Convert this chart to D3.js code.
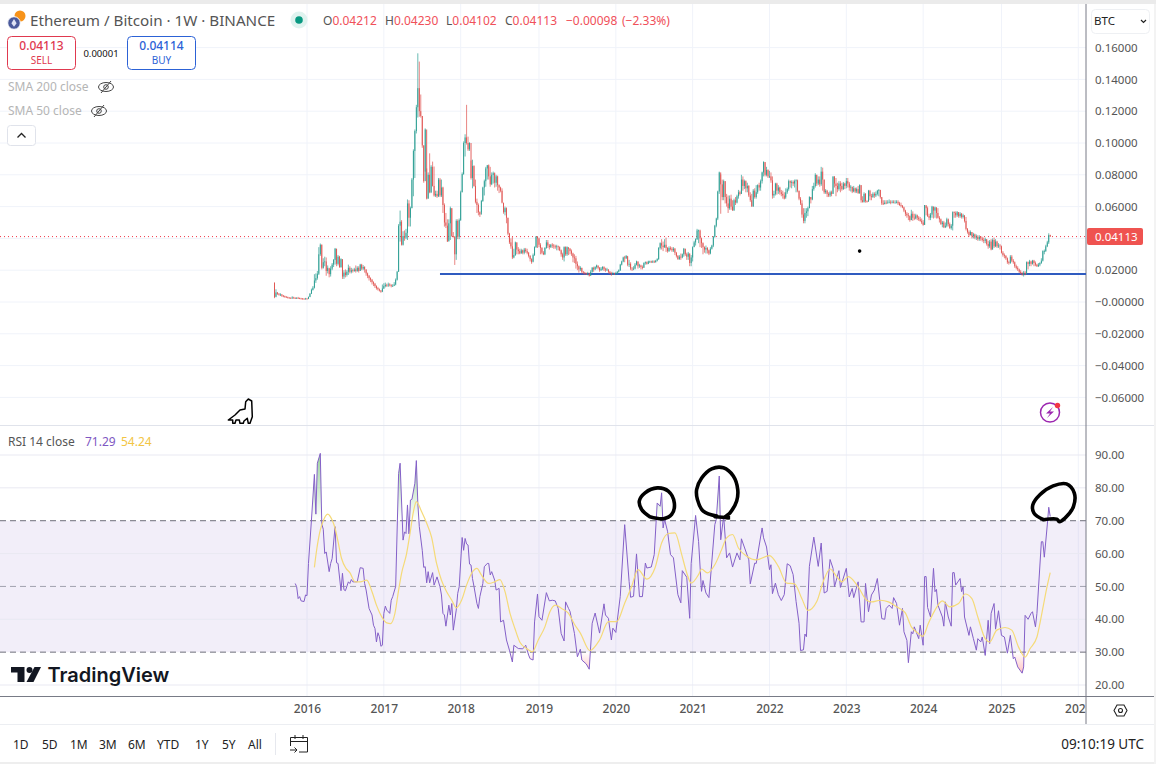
<!DOCTYPE html>
<html>
<head>
<meta charset="utf-8">
<script src="https://cdn.jsdelivr.net/npm/d3@7/dist/d3.min.js"></script>
<style>
  html, body { margin: 0; padding: 0; background: #fff; overflow: hidden; }
  svg { display: block; }
  text { font-family: "Noto Sans", sans-serif; }
</style>
</head>
<body>
<svg id="chart" width="1156" height="764"></svg>
<script>
// Weekly candles, one value per week, in units of 0.0001 BTC. Ten values per row.
const closes = [
  30,60,52,46,47,40,36,34,30,28,
  26,24,28,26,24,26,25,22,21,20,
  19,21,20,32,52,76,90,135,150,178,
  300,360,215,250,255,195,215,175,210,235,
  265,335,240,285,220,270,160,185,170,190,
  215,190,200,195,205,195,215,195,235,210,
  220,205,180,165,150,140,125,115,100,88,
  80,72,65,85,100,108,104,110,105,100,
  102,110,140,190,480,505,360,415,405,435,
  620,530,590,770,950,1075,1225,1345,1200,1170,
  985,760,1085,650,800,690,850,730,670,680,
  665,770,670,720,610,500,480,380,495,590,
  415,410,300,510,410,515,690,805,1000,1035,
  1000,960,1000,780,855,730,630,610,565,550,
  635,720,760,840,860,790,740,800,810,750,
  790,735,720,700,625,565,590,530,430,375,
  350,280,295,375,330,320,305,325,310,330,
  320,310,290,270,250,295,345,410,400,360,
  340,310,300,340,375,355,345,360,355,350,
  345,350,345,325,300,280,345,300,345,335,
  320,305,280,275,240,225,205,215,190,185,
  180,175,178,165,190,215,205,220,230,215,
  200,210,220,205,200,205,190,180,175,180,
  175,180,190,200,235,255,280,275,290,235,
  240,210,205,210,235,255,225,230,220,215,
  245,250,240,255,255,250,255,250,260,270,
  340,370,355,345,360,340,320,340,335,325,
  335,310,290,270,285,280,300,335,300,285,
  305,245,280,345,375,395,450,450,400,370,
  345,330,340,325,305,335,355,410,480,525,
  695,815,740,660,760,660,620,590,650,600,
  575,640,625,665,690,680,770,730,760,715,
  730,670,640,600,700,660,690,735,720,760,
  815,880,800,830,790,790,765,670,680,745,
  700,720,690,680,670,650,690,710,760,750,
  755,745,760,765,700,650,620,550,510,560,
  570,590,660,645,710,730,800,745,770,740,
  820,770,690,700,680,670,690,680,790,745,
  730,710,745,730,710,745,730,760,745,720,
  725,695,715,695,710,685,735,640,630,680,
  635,630,700,665,660,680,670,680,700,705,
  660,620,615,625,620,625,630,625,630,625,
  625,630,620,610,605,595,575,555,545,540,
  515,555,530,525,545,530,520,510,500,485,
  610,590,540,530,550,600,575,595,560,530,
  520,490,500,470,480,520,490,465,480,565,
  560,545,565,540,555,535,545,510,460,440,
  420,440,415,425,405,410,395,410,400,390,
  385,395,365,350,380,330,390,350,380,350,
  355,350,310,295,290,275,250,245,285,260,
  250,225,215,205,190,180,172,185,175,250,
  240,255,240,260,245,235,225,235,245,260,
  320,320,350,375,421,411
];
const highs = [
  122,80,62,56,55,50,44,40,36,34,
  30,30,36,33,30,30,32,28,26,25,
  24,26,25,34,56,84,100,175,180,195,
  345,368,362,275,285,280,230,210,225,245,
  270,340,335,295,290,275,265,200,205,200,
  235,225,215,210,215,230,225,225,240,240,
  232,225,205,185,170,155,145,130,120,105,
  95,85,75,110,118,122,115,122,118,112,
  112,125,148,195,490,575,515,445,450,460,
  645,640,600,780,960,1085,1240,1564,1512,1305,
  1170,985,1092,840,815,935,860,883,852,700,
  700,780,780,770,725,620,560,520,520,600,
  590,440,415,520,520,525,700,815,1010,1055,
  1240,1040,1005,890,895,860,770,650,620,570,
  642,725,770,850,862,865,850,815,820,815,
  800,795,740,725,715,620,600,595,530,435,
  400,410,335,380,375,345,335,335,330,340,
  340,335,315,295,275,305,350,415,415,405,
  370,345,320,345,390,390,365,365,370,365,
  360,360,355,350,330,310,350,350,350,340,
  340,330,310,300,290,255,230,225,215,195,
  190,185,190,185,200,220,222,225,235,228,
  220,220,225,225,215,215,205,195,190,190,
  185,190,195,205,240,260,285,290,295,285,
  265,250,220,225,245,260,255,240,235,230,
  250,255,255,260,260,260,262,262,265,275,
  345,375,395,380,395,405,345,350,350,345,
  345,340,315,295,295,305,305,340,335,310,
  315,305,295,350,385,400,460,455,455,405,
  375,350,355,345,330,345,360,415,485,530,
  700,820,802,770,770,760,680,670,670,675,
  640,650,660,675,705,700,800,790,770,765,
  750,735,690,680,710,715,735,740,750,770,
  820,885,880,850,835,825,815,790,700,750,
  750,735,725,705,700,690,715,720,770,765,
  765,765,770,772,770,700,660,640,590,590,
  590,600,665,660,730,750,810,800,790,790,
  850,845,770,710,705,690,700,700,790,790,
  780,750,760,760,750,755,750,780,780,755,
  735,725,730,720,720,730,740,735,665,690,
  685,640,705,705,680,690,690,695,705,710,
  705,660,640,640,640,640,645,640,640,640,
  640,640,640,630,625,610,600,580,565,560,
  545,580,570,555,555,550,540,535,525,515,
  610,605,600,555,560,605,600,600,595,590,
  540,525,510,510,500,530,525,500,490,570,
  570,570,572,565,565,560,555,545,535,465,
  450,450,440,435,430,425,420,420,415,410,
  405,405,395,385,390,395,400,405,395,385,
  370,365,355,320,305,295,280,260,295,295,
  270,255,235,225,210,200,190,195,195,255,
  255,265,260,265,265,255,240,245,250,275,
  325,330,360,385,432,423
];
const lows = [
  24,34,45,40,38,32,30,27,25,22,
  21,20,20,21,19,20,20,18,17,17,
  16,17,17,18,30,50,72,85,120,140,
  170,290,205,210,225,165,180,155,160,200,
  220,235,225,230,215,215,145,145,155,160,
  170,180,180,185,190,185,190,185,195,200,
  200,185,165,150,135,125,110,100,88,78,
  72,66,58,62,82,92,95,95,98,92,
  95,100,105,135,190,380,355,355,385,395,
  390,475,475,590,665,780,1060,1160,1165,1160,
  970,750,820,645,650,684,685,726,663,660,
  655,660,660,660,560,474,465,378,385,390,
  410,405,233,265,395,395,510,690,800,915,
  990,950,950,770,715,725,620,560,545,535,
  565,630,670,725,770,770,725,735,745,720,
  725,700,685,690,620,555,545,495,420,365,
  335,270,275,290,300,300,300,305,300,300,
  310,300,280,255,240,255,290,340,340,345,
  300,300,295,295,335,340,330,340,340,335,
  335,325,325,320,285,265,255,290,290,295,
  300,290,250,245,210,200,185,195,180,175,
  172,170,168,160,165,185,190,200,210,205,
  190,195,200,195,190,195,180,175,165,170,
  170,172,175,185,195,230,250,250,270,225,
  220,200,195,200,205,230,210,215,205,205,
  215,235,235,238,245,245,245,245,248,255,
  265,330,330,320,340,315,310,315,325,315,
  315,295,280,265,265,265,275,285,290,265,
  265,225,225,255,345,355,390,370,345,340,
  300,310,305,305,295,300,330,345,405,470,
  515,680,555,640,640,620,600,560,580,580,
  575,575,610,620,650,670,680,700,710,690,
  690,660,630,600,600,650,650,680,700,700,
  745,790,790,790,780,780,750,650,655,670,
  675,680,675,665,650,645,660,680,700,720,
  715,730,720,690,690,640,610,530,495,495,
  530,540,590,620,640,700,720,730,735,725,
  730,700,680,680,660,660,660,665,680,720,
  665,690,700,690,700,705,710,715,720,700,
  695,685,690,685,685,680,680,625,625,625,
  625,625,635,640,640,655,655,660,670,665,
  650,610,610,615,615,620,620,615,620,620,
  620,620,610,605,595,590,565,540,530,515,
  505,515,510,515,520,515,510,505,490,480,
  485,545,535,515,515,530,525,530,525,525,
  500,485,470,465,465,470,475,460,455,450,
  530,530,535,530,530,525,525,500,450,430,
  410,420,400,400,395,390,385,385,385,380,
  370,370,355,335,340,325,330,340,345,340,
  340,330,305,285,275,265,240,235,240,250,
  240,215,205,195,182,175,165,160,168,175,
  205,225,225,235,225,225,220,220,225,240,
  255,300,315,345,365,410
];
const firstOpen = 122;
const priceUnit = 0.0001;

// RSI 14, [week, value], turning points
const rsiPoints = [
  [14,50.9],[15,49.9],[16,46.3],[17,46.9],[18,45.6],[20,45.4],[21,47.4],[22,47.2],[23,57],[25,70.2],
  [27,84.1],[28,72],[29,87.5],[31,90.5],[32,69],[33,67.4],[34,60],[35,60.5],[37,54.5],[38,57],
  [39,58.5],[41,68.2],[42,57.2],[43,57],[45,48.7],[46,54],[47,49],[48,48.7],[50,51.4],[51,50.9],
  [52,52.1],[53,51.4],[56,51.4],[58,55.7],[60,55.5],[61,50.9],[62,48.9],[64,43.3],[66,41.3],[67,38.2],
  [68,37.2],[69,33.1],[70,35.9],[71,34.7],[72,31.8],[73,32.1],[74,41.8],[75,44],[76,42.8],[78,41.8],
  [79,45.8],[80,46.9],[82,50],[84,84.4],[85,87.5],[87,64.1],[88,66.6],[89,66.1],[90,74.8],[91,66],
  [92,76.3],[93,76.5],[95,81.4],[96,88.3],[97,75.3],[98,68.2],[100,61],[101,55.8],[102,56],[103,51.1],
  [104,54.5],[105,51.1],[107,54.2],[108,50.4],[110,52.9],[112,49.9],[113,47.4],[114,41.8],[115,41.3],[116,37.9],
  [118,44.3],[119,41.3],[120,44.8],[121,36.7],[123,42.8],[124,47.9],[125,49.9],[127,64.9],[128,61],[129,64.6],
  [130,62.9],[131,62.6],[132,56.8],[133,56.5],[134,52.4],[135,50],[137,44.8],[138,43.3],[139,46.9],[141,50.9],
  [142,56],[144,57],[145,57],[146,53.5],[147,54.5],[149,51.9],[150,48.9],[152,49.4],[153,39.2],[155,39.7],
  [157,33.7],[159,30.6],[161,27],[162,32.1],[165,31.1],[168,31],[170,32.1],[172,29.1],[173,28],[175,27.6],
  [176,39.2],[178,47.7],[179,40.8],[181,39.7],[184,48.1],[186,45.6],[188,45.8],[190,45.6],[192,43.3],[194,35.7],
  [196,33.4],[197,45.3],[199,43.3],[200,42.4],[203,35.7],[205,28.6],[207,30.9],[208,27.6],[211,26.4],[213,24.8],
  [215,38.8],[217,41.9],[220,35.8],[223,44.7],[224,41.3],[226,40.3],[228,33.7],[229,37.3],[231,36],[234,47],
  [237,68.8],[240,51.5],[241,46.7],[243,47],[245,59.9],[247,46.9],[249,46.9],[251,57.1],[252,55.6],[255,55.9],
  [257,59.7],[259,75.4],[261,74.4],[262,78.5],[263,67.8],[264,70.4],[266,66.8],[268,59.7],[270,58.7],[273,47.5],
  [275,45],[276,54.8],[279,52.8],[281,40.3],[282,57],[285,71.6],[287,63.7],[289,48.5],[290,51.8],[292,48],
  [294,46.6],[298,68.8],[299,70.4],[301,83.6],[302,64.2],[304,71.4],[306,58.7],[308,60.2],[310,55.9],[313,60.2],
  [315,58.1],[316,64.5],[317,63.2],[321,58.1],[322,50.8],[325,57.1],[326,57],[330,67.8],[331,64.8],[333,62],
  [335,55.1],[336,56.6],[337,47.8],[339,51],[341,47.5],[343,45.7],[345,47.5],[347,56.9],[349,56.3],[351,53.6],
  [353,45.4],[355,38.8],[356,30.5],[358,30.7],[359,35.5],[360,34.7],[362,56.1],[365,65],[368,56.1],[370,63.2],
  [372,48],[374,48.5],[376,58.2],[378,55.5],[379,49.9],[382,54.8],[383,49.7],[387,55.5],[389,46.8],[391,49.4],
  [392,46.6],[395,51.4],[397,39.2],[399,39.2],[400,50.9],[402,42.3],[404,47.4],[406,48.9],[408,52.4],[411,40.2],
  [413,40],[414,43.3],[416,44.3],[418,43.3],[419,46.6],[421,44.8],[423,38.2],[425,43.3],[426,36.2],[428,33.6],
  [429,26.8],[431,36.2],[432,35.6],[433,37.7],[436,34.1],[437,38.2],[439,32.1],[440,53],[441,53],[442,43.6],
  [444,40.7],[446,55.5],[447,48.4],[448,49.1],[449,44.3],[452,40.7],[453,37.9],[454,45.3],[456,40.7],[458,37.9],
  [459,54.2],[460,54.2],[461,50.4],[464,52.4],[465,48.4],[466,49.9],[467,40.7],[470,35.1],[471,37.7],[473,34.1],
  [475,30.6],[476,34.1],[478,33.1],[479,34.6],[481,29],[483,39.7],[484,32.6],[485,41.8],[487,44.8],[488,37],
  [490,42.6],[492,35.1],[494,34.6],[496,29.7],[498,35.1],[500,28],[501,28.5],[503,25.5],[506,23.6],[507,25.5],
  [508,41.2],[510,40],[512,41.8],[513,42.3],[515,37.7],[516,41.8],[519,63.6],[520,63.6],[521,58.9],[523,68.7],
  [524,74.1],[525,71.3]
];

// Moving average of the RSI, [week, value]
const rsiMaPoints = [
  [27,55.8],[28.5,61],[31,67.2],[33,70],[36,72],[39,70.2],[41,67.7],[43,63.6],[45.4,58.5],[48.4,55.5],
  [51,54.2],[54.5,51.4],[58,51.4],[62.4,51.9],[66,48.4],[69,44.3],[72.5,40.8],[76,38.9],[78.6,38.7],[81.5,41.8],
  [84,48.9],[86,54],[89.4,60],[91.7,66.1],[94,72.7],[96,75.8],[99.6,72.7],[103,69.2],[106.3,65],[109.7,57],
  [113,51.9],[116.5,48.4],[120,45.8],[123,43.5],[126.6,45.8],[130,50.4],[133.4,54],[137,55.5],[140,53.5],[145,50.9],
  [149,51.4],[152.6,52.1],[156,48.4],[159.4,41.8],[162.7,37.2],[166,33.1],[170.6,31.1],[174.5,30.1],[178.5,33.7],[183,37.7],
  [186.4,42.3],[190,44.3],[194.3,43.3],[199,41.8],[203,38.5],[207,35.8],[213.5,30.5],[220,33.7],[226,39.3],[231.6,39.3],
  [237,44.9],[241.7,50],[246,55.1],[252,52.2],[257.5,55.6],[262,63.2],[266.5,66.1],[271,66.3],[275.6,59.7],[279,54.1],
  [282,51],[287,53.6],[289,55.3],[293,54.1],[298,56.6],[302.6,61.2],[306,64.8],[310,65.8],[314,61.7],[319.6,59.2],
  [326,58.1],[335,59.4],[341,56.1],[346.6,51],[352,50.8],[356.8,46.4],[361,42.7],[367,45.4],[371.4,51.5],[376,55.3],
  [380.5,53],[384,51.4],[388.4,53],[395,49.9],[400.8,45.8],[404,45.3],[410,45.8],[415.5,45.3],[421,43.8],[426.8,42],
  [431,37.7],[436,35.6],[438.7,34.8],[442.5,38.7],[447,42.8],[452,45.6],[457,43.8],[463,44.8],[467.4,47.7],[472,46.3],
  [476,40.7],[481,34.1],[484,33.1],[488.8,36.7],[494.4,37.5],[499,36.7],[503.5,31.6],[508,28.5],[511.4,31.1],[516,34.6],
  [518,38.7],[520.4,44.3],[522.6,49.4],[525,54.2]
];

// Hand-drawn rings around the RSI peaks, [week, rsi]
const ringPoints = [
  [[254,71.2],[248.5,73.4],[246.9,76],[250.8,78.5],[259.1,80],[266.5,79],[270.6,75.4],[268.8,71.9],[263.2,70.6],[254,71.2]],
  [[299.3,71.4],[290.2,72.9],[286.2,76.5],[285.7,79.5],[289.1,83],[295.9,85.8],[303.8,86.1],[310.5,83.6],[313.5,79.5],[312.8,76],[308.3,72.4],[304.9,71],[308.3,70.9],[298.1,71.2]],
  [[520.4,70.3],[514,72.3],[513.2,74.8],[518,77.9],[527,80.6],[536,81.2],[541.3,78.4],[540.7,74.3],[535,70.8],[531.2,69.7],[529.4,70.5],[520.4,70.3]]
];

const supportLevel = 0.0176;
const supportStartWeek = 112;
const lastClose = 0.04113;
const markerDot = [396, 0.032];

const priceTicks = [0.16, 0.14, 0.12, 0.10, 0.08, 0.06, 0.04, 0.02, 0, -0.02, -0.04, -0.06];
const priceTickLabels = ["0.16000","0.14000","0.12000","0.10000","0.08000","0.06000","0.04000","0.02000","\u22120.00000","\u22120.02000","\u22120.04000","\u22120.06000"];
const rsiTicks = [90, 80, 70, 60, 50, 40, 30, 20];
const yearWeeks = [22, 74, 126, 179, 231, 283, 335, 387, 439, 492, 544];
const yearLabels = ["2016","2017","2018","2019","2020","2021","2022","2023","2024","2025","2026"];
const ohlcLabels = [["O","0.04212"],["H","0.04230"],["L","0.04102"],["C","0.04113"],["","\u22120.00098"],["","(\u22122.33%)"]];
const ohlcX = [323, 385, 446, 505, 566, 622];
const rangeLabels = ["1D","5D","1M","3M","6M","YTD","1Y","5Y","All"];
const rangeX = [13, 42, 70, 99, 128, 157, 195, 222, 248];

const green = "#2a9d92", red = "#e0524f", axisGrey = "#787b86", gridColor = "#f0f3fa", textGrey = "#555";
const paneRight = 1086;

const svg = d3.select("#chart");
svg.append("rect").attr("width", 1156).attr("height", 764).attr("fill", "#fff");
svg.append("rect").attr("width", 1156).attr("height", 4).attr("fill", "#ebebeb");

const defs = svg.append("defs");
defs.append("clipPath").attr("id", "pane").append("rect").attr("x", 0).attr("y", 0).attr("width", paneRight).attr("height", 764);

// scales
const x = d3.scaleLinear().domain([0, 544]).range([274.5, 1078.3]);
const yPrice = d3.scaleLinear().domain([0.16, -0.06]).range([47.6, 397.4]);
const yRsi = d3.scaleLinear().domain([90, 20]).range([455, 685]);

// grid
const grid = svg.append("g").attr("stroke", gridColor).attr("stroke-width", 1);
grid.selectAll(".pv").data(yearWeeks).join("line")
  .attr("x1", d => x(d)).attr("x2", d => x(d)).attr("y1", 4).attr("y2", 696);
grid.selectAll(".ph").data(priceTicks).join("line")
  .attr("x1", 0).attr("x2", paneRight).attr("y1", d => yPrice(d)).attr("y2", d => yPrice(d));

// RSI band and its grid
svg.append("rect")
  .attr("x", 0).attr("width", paneRight)
  .attr("y", yRsi(70)).attr("height", yRsi(30) - yRsi(70))
  .attr("fill", "#7e57c2").attr("fill-opacity", 0.1);
svg.append("g").attr("stroke", "#e9e9f2")
  .selectAll("line").data([90, 80, 60, 40, 20]).join("line")
  .attr("x1", 0).attr("x2", paneRight).attr("y1", d => yRsi(d)).attr("y2", d => yRsi(d));
svg.append("g").selectAll("line").data([70, 50, 30]).join("line")
  .attr("x1", 0).attr("x2", paneRight).attr("y1", d => yRsi(d)).attr("y2", d => yRsi(d))
  .attr("stroke", d => d === 50 ? "#a2a2ae" : "#6f6f7a")
  .attr("stroke-dasharray", "6 4");

// pane separators
svg.append("line").attr("x1", 0).attr("x2", 1156).attr("y1", 425.5).attr("y2", 425.5).attr("stroke", "#e0e3eb");
svg.append("line").attr("x1", 0).attr("x2", 1156).attr("y1", 696.5).attr("y2", 696.5).attr("stroke", axisGrey);
svg.append("line").attr("x1", 0).attr("x2", 1156).attr("y1", 724.5).attr("y2", 724.5).attr("stroke", "#eceef2");
svg.append("line").attr("x1", paneRight).attr("x2", paneRight).attr("y1", 4).attr("y2", 724).attr("stroke", axisGrey);

// last price dotted line
svg.append("line")
  .attr("x1", 0).attr("x2", paneRight)
  .attr("y1", yPrice(lastClose)).attr("y2", yPrice(lastClose))
  .attr("stroke", "#f23645").attr("stroke-dasharray", "1 3");

// support line
svg.append("line")
  .attr("x1", x(supportStartWeek)).attr("x2", paneRight)
  .attr("y1", yPrice(supportLevel)).attr("y2", yPrice(supportLevel))
  .attr("stroke", "#2f5bc0").attr("stroke-width", 2);

// candles
const candles = closes.map((c, i) => ({
  week: i,
  open: (i === 0 ? firstOpen : closes[i - 1]) * priceUnit,
  close: c * priceUnit,
  high: highs[i] * priceUnit,
  low: lows[i] * priceUnit
}));
const candleG = svg.append("g");
candleG.selectAll(".wick").data(candles).join("line")
  .attr("x1", d => x(d.week)).attr("x2", d => x(d.week))
  .attr("y1", d => yPrice(d.high)).attr("y2", d => yPrice(d.low))
  .attr("stroke", d => d.close >= d.open ? green : red)
  .attr("stroke-width", 0.7);
candleG.selectAll(".body").data(candles).join("rect")
  .attr("x", d => x(d.week) - 0.45).attr("width", 0.9)
  .attr("y", d => yPrice(Math.max(d.open, d.close)))
  .attr("height", d => Math.max(0.8, Math.abs(yPrice(d.open) - yPrice(d.close))))
  .attr("fill", d => d.close >= d.open ? green : red);

// small black dot on the price pane
svg.append("circle").attr("cx", x(markerDot[0])).attr("cy", yPrice(markerDot[1])).attr("r", 1.8).attr("fill", "#000");

// RSI overbought and oversold fill
const obGrad = defs.append("linearGradient").attr("id", "ob").attr("gradientUnits", "userSpaceOnUse")
  .attr("x1", 0).attr("x2", 0).attr("y1", yRsi(90)).attr("y2", yRsi(70));
obGrad.append("stop").attr("offset", 0).attr("stop-color", "#4caf50").attr("stop-opacity", 0.55);
obGrad.append("stop").attr("offset", 1).attr("stop-color", "#4caf50").attr("stop-opacity", 0);
const osGrad = defs.append("linearGradient").attr("id", "os").attr("gradientUnits", "userSpaceOnUse")
  .attr("x1", 0).attr("x2", 0).attr("y1", yRsi(30)).attr("y2", yRsi(20));
osGrad.append("stop").attr("offset", 0).attr("stop-color", "#ff5252").attr("stop-opacity", 0);
osGrad.append("stop").attr("offset", 1).attr("stop-color", "#ff5252").attr("stop-opacity", 0.55);
defs.append("clipPath").attr("id", "aboveOb").append("rect").attr("x", 0).attr("y", 440).attr("width", paneRight).attr("height", yRsi(70) - 440);
defs.append("clipPath").attr("id", "belowOs").append("rect").attr("x", 0).attr("y", yRsi(30)).attr("width", paneRight).attr("height", 40);

svg.append("path").datum(rsiPoints)
  .attr("clip-path", "url(#aboveOb)").attr("fill", "url(#ob)")
  .attr("d", d3.area().x(d => x(d[0])).y0(yRsi(70)).y1(d => yRsi(d[1])));
svg.append("path").datum(rsiPoints)
  .attr("clip-path", "url(#belowOs)").attr("fill", "url(#os)")
  .attr("d", d3.area().x(d => x(d[0])).y0(yRsi(30)).y1(d => yRsi(d[1])));

// RSI line and its average
svg.append("path").datum(rsiPoints)
  .attr("fill", "none").attr("stroke", "#8460c8").attr("stroke-width", 1)
  .attr("d", d3.line().x(d => x(d[0])).y(d => yRsi(d[1])));
svg.append("path").datum(rsiMaPoints)
  .attr("fill", "none").attr("stroke", "#f5da78").attr("stroke-width", 1.2)
  .attr("d", d3.line().x(d => x(d[0])).y(d => yRsi(d[1])).curve(d3.curveMonotoneX));

// drawn rings
svg.append("g").selectAll("path").data(ringPoints).join("path")
  .attr("fill", "none").attr("stroke", "#000").attr("stroke-width", 3.6).attr("stroke-linecap", "round")
  .attr("d", d3.line().x(d => x(d[0])).y(d => yRsi(d[1])).curve(d3.curveCatmullRom));

// axes
const priceAxis = svg.append("g").attr("transform", `translate(${paneRight},0)`)
  .call(d3.axisRight(yPrice).tickValues(priceTicks).tickSize(0).tickPadding(9)
    .tickFormat((d, i) => priceTickLabels[i]));
const rsiAxis = svg.append("g").attr("transform", `translate(${paneRight},0)`)
  .call(d3.axisRight(yRsi).tickValues(rsiTicks).tickSize(0).tickPadding(9)
    .tickFormat(d => d.toFixed(2)));
const timeAxis = svg.append("g").attr("transform", "translate(0,696)").attr("clip-path", "url(#pane)")
  .call(d3.axisBottom(x).tickValues(yearWeeks).tickSize(0).tickPadding(8)
    .tickFormat((d, i) => yearLabels[i]));
[priceAxis, rsiAxis, timeAxis].forEach(a => {
  a.select(".domain").remove();
  a.selectAll("text").attr("fill", textGrey).style("font-size", "11.5px").style("font-family", '"Noto Sans", sans-serif');
});
timeAxis.selectAll("text").style("font-size", "12px").style("font-weight", 500);

// last price tag
svg.append("rect").attr("x", 1087).attr("y", yPrice(lastClose) - 8.5).attr("width", 56).attr("height", 17).attr("rx", 2).attr("fill", "#ef5350");
svg.append("text").attr("x", 1095).attr("y", yPrice(lastClose) + 4).attr("fill", "#fff").style("font-size", "11.5px").text("0.04113");

// currency selector
svg.append("rect").attr("x", 1091.5).attr("y", 9.5).attr("width", 58).attr("height", 24).attr("rx", 4).attr("fill", "#fff").attr("stroke", "#eef0f3");
svg.append("text").attr("x", 1094).attr("y", 25).attr("fill", "#222").style("font-size", "11.5px").text("BTC");
svg.append("path").attr("d", "M1141 20l2.5 2.5l2.5-2.5").attr("fill", "none").attr("stroke", "#222").attr("stroke-width", 1.2);

// header
svg.append("circle").attr("cx", 20).attr("cy", 16).attr("r", 5.5).attr("fill", "#f7931a");
svg.append("circle").attr("cx", 14).attr("cy", 23).attr("r", 6.3).attr("fill", "#4a5a9c").attr("stroke", "#fff");
svg.append("path").attr("d", "M14 19l2.6 4.2l-2.6 3.6l-2.6-3.6z").attr("fill", "#dfe3f5");
svg.append("text").attr("x", 30).attr("y", 26).attr("fill", textGrey).style("font-size", "15.2px").text("Ethereum / Bitcoin \u00b7 1W \u00b7 BINANCE");
svg.append("circle").attr("cx", 299).attr("cy", 20).attr("r", 8.5).attr("fill", "#dff3ef");
svg.append("circle").attr("cx", 299).attr("cy", 20).attr("r", 3.8).attr("fill", "#089981");

const ohlc = svg.append("g").style("font-size", "12px");
ohlcLabels.forEach((d, i) => {
  const t = ohlc.append("text").attr("x", ohlcX[i]).attr("y", 25);
  t.append("tspan").attr("fill", textGrey).text(d[0]);
  t.append("tspan").attr("fill", "#f0505a").text(d[1]);
});

// sell and buy buttons
function tradeButton(left, color, price, label) {
  svg.append("rect").attr("x", left).attr("y", 36.5).attr("width", 68).attr("height", 33).attr("rx", 4).attr("fill", "#fff").attr("stroke", color);
  svg.append("text").attr("x", left + 34).attr("y", 50).attr("text-anchor", "middle").attr("fill", color).style("font-size", "12px").style("font-weight", 500).text(price);
  svg.append("text").attr("x", left + 34).attr("y", 64).attr("text-anchor", "middle").attr("fill", color).style("font-size", "10px").text(label);
}
tradeButton(7.5, "#e0394f", "0.04113", "SELL");
tradeButton(127.5, "#2c62d6", "0.04114", "BUY");
svg.append("text").attr("x", 101).attr("y", 57).attr("text-anchor", "middle").attr("fill", "#111").style("font-size", "9.5px").text("0.00001");

// hidden SMA rows
function smaRow(label, y, eyeX) {
  svg.append("text").attr("x", 8).attr("y", y).attr("fill", "#b5b5b5").style("font-size", "12px").text(label);
  const eye = svg.append("g").attr("transform", `translate(${eyeX},${y - 4})`).attr("fill", "none").attr("stroke", "#444").attr("stroke-width", 1);
  eye.append("ellipse").attr("rx", 7.5).attr("ry", 4.5);
  eye.append("circle").attr("r", 2.3);
  eye.append("path").attr("d", "M-5 6L5 -6");
}
smaRow("SMA 200 close", 91, 106);
smaRow("SMA 50 close", 115, 99);
svg.append("rect").attr("x", 7.5).attr("y", 125.5).attr("width", 28).attr("height", 20).attr("rx", 3).attr("fill", "#fff").attr("stroke", "#e0e3eb");
svg.append("path").attr("d", "M17.5 137.5l4-4l4 4").attr("fill", "none").attr("stroke", "#222").attr("stroke-width", 1.3);

// dinosaur drawing
svg.append("path")
  .attr("d", "M228.3 420L235 415L240 410L245 409L245.7 401.7L248.3 399L251.7 401L252.3 416.7L250 423.3L248.3 423.3L247.3 418.3L244 421L243.3 423.3L240 423.3L239.3 420L236 420L235 423.3L232.7 423.3L232.7 420Z")
  .attr("fill", "#fff").attr("stroke", "#000").attr("stroke-width", 1.5).attr("stroke-linejoin", "round");

// purple zap badge
svg.append("circle").attr("cx", 1050).attr("cy", 412.5).attr("r", 9.5).attr("fill", "none").attr("stroke", "#9c27b0").attr("stroke-width", 1.5);
svg.append("path").attr("d", "M1053 407L1046 413.5L1050 413.5L1047 418L1054 411.5L1050 411.5Z").attr("fill", "#9c27b0");
svg.append("circle").attr("cx", 1057.5).attr("cy", 405.5).attr("r", 2.7).attr("fill", "#f23645");

// RSI legend
svg.append("text").attr("x", 8).attr("y", 446).attr("fill", textGrey).style("font-size", "12px").text("RSI 14 close");
svg.append("text").attr("x", 85).attr("y", 446).attr("fill", "#7e57c2").style("font-size", "12px").text("71.29");
svg.append("text").attr("x", 121).attr("y", 446).attr("fill", "#f2c544").style("font-size", "12px").text("54.24");

// TradingView mark
svg.append("path").attr("d", "M11 667H24.5V682H17.5V672.5H11Z").attr("fill", "#131722");
svg.append("circle").attr("cx", 29.5).attr("cy", 670).attr("r", 3).attr("fill", "#131722");
svg.append("path").attr("d", "M34.5 667H41L33.5 682H26.5Z").attr("fill", "#131722");
svg.append("text").attr("x", 47.5).attr("y", 682).attr("fill", "#131722")
  .style("font-family", "Inter, sans-serif").style("font-size", "20px").style("font-weight", 600).text("TradingView");

// settings hexagon
svg.append("path").attr("d", "M1114 710.5L1117 705H1124L1127 710.5L1124 716H1117Z").attr("fill", "none").attr("stroke", "#222").attr("stroke-width", 1.1);
svg.append("circle").attr("cx", 1120.5).attr("cy", 710.5).attr("r", 2).attr("fill", "none").attr("stroke", "#222").attr("stroke-width", 1.1);

// footer
svg.append("g").style("font-size", "12px").selectAll("text").data(rangeLabels).join("text")
  .attr("x", (d, i) => rangeX[i]).attr("y", 749).attr("fill", "#222").text(d => d);
svg.append("line").attr("x1", 275.5).attr("x2", 275.5).attr("y1", 733).attr("y2", 755).attr("stroke", "#e6e8ee");
svg.append("path").attr("d", "M290.5 746V737.5H307.5V752H299M290.5 741.5H307.5M295 735V739M303 735V739M290 750H297M294.5 747.5L297 750L294.5 752.5")
  .attr("fill", "none").attr("stroke", "#222").attr("stroke-width", 1);
svg.append("text").attr("x", 1144).attr("y", 749).attr("text-anchor", "end").attr("fill", "#222").style("font-size", "13.5px").text("09:10:19 UTC");
svg.append("rect").attr("y", 762).attr("width", 1156).attr("height", 2).attr("fill", "#eeeeee");
svg.append("rect").attr("x", 1154).attr("y", 4).attr("width", 2).attr("height", 760).attr("fill", "#f3f3f3");
</script>
</body>
</html>
